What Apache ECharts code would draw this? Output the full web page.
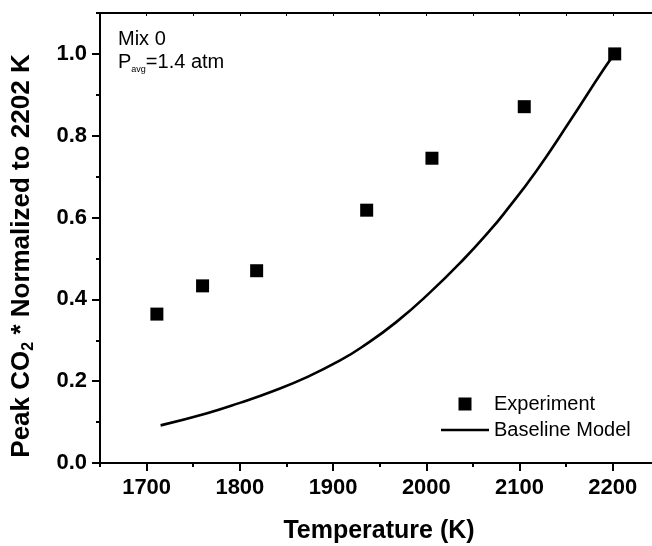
<!DOCTYPE html>
<html>
<head>
<meta charset="utf-8">
<script src="https://cdn.jsdelivr.net/npm/echarts@6/dist/echarts.min.js"></script>
<style>
html,body{margin:0;padding:0;background:#fff;}
#chart{width:652px;height:546px;}
</style>
</head>
<body>
<div id="chart"></div>
<script>
// ---- data ----
var expTemp = [1711, 1760, 1818, 1936, 2006, 2105, 2202];
var expValue = [0.364, 0.433, 0.470, 0.618, 0.745, 0.871, 1.0];

var modelTemp = [1715, 1764, 1800, 1836, 1872, 1907, 1932, 1968, 2004, 2040, 2068, 2083, 2118, 2154, 2190, 2202];
var modelValue = [0.092, 0.121, 0.147, 0.176, 0.210, 0.250, 0.285, 0.345, 0.417, 0.498, 0.568, 0.609, 0.714, 0.836, 0.962, 1.0];

var xMajorTicks = [1700, 1800, 1900, 2000, 2100, 2200];
var xMinorTicks = [1650, 1750, 1850, 1950, 2050, 2150];
var xTopTicks = [1650, 1700, 1750, 1800, 1850, 1900, 1950, 2000, 2050, 2100, 2150, 2200];
var yMajorTicks = [0, 0.2, 0.4, 0.6, 0.8, 1.0];
var yMinorTicks = [0.1, 0.3, 0.5, 0.7, 0.9, 1.1];

var seriesNames = ['Experiment', 'Baseline Model'];
var xTitle = 'Temperature (K)';

// ---- chart ----
var FONT = "'Liberation Sans', Arial, sans-serif";
var xMin = 1650, xMax = 2242, yMin = 0, yMax = 1.1;

function zip(a, b) { return a.map(function (v, i) { return [v, b[i]]; }); }

var chart = echarts.init(document.getElementById('chart'), null, { renderer: 'canvas' });

var baseX = { type: 'value', min: xMin, max: xMax, gridIndex: 0, splitLine: { show: false } };
var baseY = { type: 'value', min: yMin, max: yMax, gridIndex: 0, splitLine: { show: false } };

var option = {
  animation: false,
  backgroundColor: '#ffffff',
  grid: { left: 100, right: 0, top: 13, bottom: 83, containLabel: false },
  xAxis: [
    Object.assign({}, baseX, {
      position: 'bottom',
      axisLine: { show: true, onZero: false, lineStyle: { color: '#000', width: 2 } },
      axisTick: { show: true, inside: false, length: 8, customValues: xMajorTicks, lineStyle: { color: '#000', width: 2 } },
      axisLabel: {
        show: true, customValues: xMajorTicks, margin: 14, color: '#000', fontSize: 22, fontWeight: 'bold', fontFamily: FONT,
        formatter: function (v) { return String(Math.round(v)); }
      }
    }),
    Object.assign({}, baseX, {
      position: 'bottom',
      axisLine: { show: false, onZero: false },
      axisTick: { show: true, inside: false, length: 4, customValues: xMinorTicks, lineStyle: { color: '#000', width: 2 } },
      axisLabel: { show: false }
    }),
    Object.assign({}, baseX, {
      position: 'top',
      axisLine: { show: true, onZero: false, lineStyle: { color: '#000', width: 2 } },
      axisTick: { show: true, inside: true, length: 3, customValues: xTopTicks, lineStyle: { color: '#000', width: 1 } },
      axisLabel: { show: false }
    })
  ],
  yAxis: [
    Object.assign({}, baseY, {
      position: 'left',
      axisLine: { show: true, onZero: false, lineStyle: { color: '#000', width: 2 } },
      axisTick: { show: true, inside: false, length: 8, customValues: yMajorTicks, lineStyle: { color: '#000', width: 2 } },
      axisLabel: {
        show: true, customValues: yMajorTicks, margin: 13, color: '#000', fontSize: 22, fontWeight: 'bold', fontFamily: FONT,
        formatter: function (v) { return Number(v).toFixed(1); }
      }
    }),
    Object.assign({}, baseY, {
      position: 'left',
      axisLine: { show: false, onZero: false },
      axisTick: { show: true, inside: false, length: 4, customValues: yMinorTicks, lineStyle: { color: '#000', width: 2 } },
      axisLabel: { show: false }
    })
  ],
  legend: {
    orient: 'vertical',
    left: 436,
    top: 389,
    itemWidth: 48,
    itemHeight: 13,
    itemGap: 6,
    textStyle: { color: '#000', fontSize: 20, fontFamily: FONT, lineHeight: 20 },
    data: [
      { name: seriesNames[0], icon: 'path://M0,0M17.5,0h13v13h-13zM48,13', itemStyle: { color: '#000', opacity: 1 } },
      { name: seriesNames[1], icon: 'path://M0,0M0,5.2h48v2.6h-48zM48,13', itemStyle: { color: '#000', opacity: 1 } }
    ]
  },
  series: [
    {
      name: seriesNames[0],
      type: 'scatter',
      xAxisIndex: 0, yAxisIndex: 0,
      symbol: 'rect',
      symbolSize: 13,
      itemStyle: { color: '#000', opacity: 1 },
      data: zip(expTemp, expValue),
      z: 3
    },
    {
      name: seriesNames[1],
      type: 'line',
      xAxisIndex: 0, yAxisIndex: 0,
      showSymbol: false,
      symbol: 'none',
      smooth: 0.5,
      lineStyle: { color: '#000', width: 2.6 },
      itemStyle: { color: '#000' },
      data: zip(modelTemp, modelValue),
      z: 2
    }
  ],
  graphic: [
    {
      type: 'text', left: 118, top: 29,
      style: { text: 'Mix 0', fill: '#000', fontSize: 20, fontFamily: FONT }
    },
    {
      type: 'text', x: 118, y: 62,
      style: {
        text: '{a|P}{s|avg}{a|=1.4 atm}',
        verticalAlign: 'middle',
        align: 'left',
        rich: {
          a: { fontSize: 20, fontFamily: FONT, fill: '#000', lineHeight: 24, verticalAlign: 'middle' },
          s: { fontSize: 9, fontFamily: FONT, fill: '#000', lineHeight: 4, verticalAlign: 'bottom' }
        }
      }
    },
    {
      type: 'text', x: 379, y: 531,
      style: { text: xTitle, fill: '#000', fontSize: 25, fontWeight: 'bold', fontFamily: FONT, align: 'center', verticalAlign: 'middle' }
    },
    {
      type: 'text', x: 22, y: 256, rotation: Math.PI / 2,
      style: {
        text: '{a|Peak CO}{s|2}{a| * Normalized to 2202 K}',
        align: 'center',
        verticalAlign: 'middle',
        rich: {
          a: { fontSize: 26, fontWeight: 'bold', fontFamily: FONT, fill: '#000', lineHeight: 30, verticalAlign: 'middle' },
          s: { fontSize: 16, fontWeight: 'bold', fontFamily: FONT, fill: '#000', lineHeight: 12, verticalAlign: 'bottom' }
        }
      }
    }
  ]
};

chart.setOption(option);
</script>
</body>
</html>
